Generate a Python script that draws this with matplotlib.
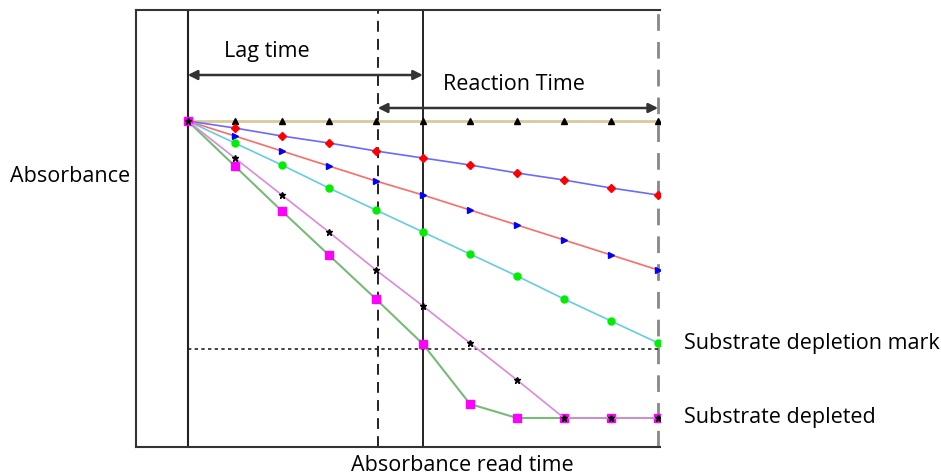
import matplotlib
matplotlib.use("Agg")
import matplotlib.pyplot as plt

# tiempos de lectura y absorbancias de cada serie
tiempos = [0, 1, 2, 3, 4, 5, 6, 7, 8, 9, 10]
serie_control = [3.26, 3.26, 3.26, 3.26, 3.26, 3.26, 3.26, 3.26, 3.26, 3.26, 3.26]
serie_lenta = [3.26, 3.19, 3.11, 3.04, 2.96, 2.89, 2.82, 2.74, 2.67, 2.59, 2.52]
serie_media = [3.26, 3.11, 2.96, 2.81, 2.66, 2.52, 2.37, 2.22, 2.07, 1.92, 1.77]
serie_rapida = [3.26, 3.04, 2.82, 2.59, 2.37, 2.15, 1.93, 1.71, 1.48, 1.26, 1.04]
serie_muy_rapida = [3.26, 2.89, 2.52, 2.15, 1.77, 1.41, 1.04, 0.67, 0.29, 0.29, 0.29]
serie_maxima = [3.26, 2.81, 2.36, 1.92, 1.48, 1.03, 0.43, 0.29, 0.29, 0.29, 0.29]
marca_agotamiento = 0.98
inicio_lectura, fin_retardo, lectura, fin_reaccion = 0, 4.04, 5, 10

plt.rcParams['font.family'] = ['Open Sans', 'DejaVu Sans']
TAM = 15.5

fig = plt.figure(figsize=(9.41, 4.76), dpi=100)
ax = fig.add_axes([136 / 941, 29 / 476, 524 / 941, 437 / 476])
ax.set_xlim(-1.1, 10.04)
ax.set_ylim(0, 4.37)
ax.set_xticks([])
ax.set_yticks([])
for lado in ['left', 'top', 'bottom']:
    ax.spines[lado].set_color('#333333')
    ax.spines[lado].set_linewidth(1.5)
ax.spines['right'].set_visible(False)

# líneas de referencia
ax.axvline(inicio_lectura, color='#222222', lw=1.5)
ax.axvline(fin_retardo, color='#111111', lw=1.3, ls=(0, (6, 4)))
ax.axvline(lectura, color='#111111', lw=1.3)
ax.axvline(fin_reaccion, color='#888888', lw=2, ls=(0, (6, 4)))
ax.plot([tiempos[0], tiempos[-1]], [marca_agotamiento] * 2, color='#222222', lw=1.2, ls=(0, (2, 2)))

# series (línea, marcador)
ax.plot(tiempos, serie_control, color='#d9c99a', lw=2, marker='^', ms=5, mfc='black', mec='black')
ax.plot(tiempos, serie_lenta, color='#6a6aff', lw=1.2, marker='D', ms=4, mfc='red', mec='red')
ax.plot(tiempos, serie_media, color='#ff6a6a', lw=1.2, marker='>', ms=5, mfc='blue', mec='blue')
ax.plot(tiempos, serie_rapida, color='#66cce0', lw=1.2, marker='o', ms=5, mfc='#00ee00', mec='#00ee00')
ax.plot(tiempos, serie_maxima, color='#77bb77', lw=1.5, marker='s', ms=6, mfc='#ff00ff', mec='#ff00ff')
ax.plot(tiempos, serie_muy_rapida, color='#dd88dd', lw=1.2, marker='*', ms=5, mfc='black', mec='black')

# flechas de intervalos
flecha = dict(arrowstyle='<|-|>', color='#333333', lw=1.8, mutation_scale=14, shrinkA=0, shrinkB=0)
ax.annotate('', xy=(inicio_lectura, 3.72), xytext=(lectura, 3.72), arrowprops=flecha)
ax.annotate('', xy=(fin_retardo, 3.39), xytext=(fin_reaccion, 3.39), arrowprops=flecha)
ax.text(1.69, 3.96, 'Lag time', ha='center', va='center', fontsize=TAM)
ax.text(6.94, 3.62, 'Reaction Time', ha='center', va='center', fontsize=TAM)

fig.text(10 / 941, 0.630, 'Absorbance', ha='left', va='center', fontsize=TAM)
fig.text(462 / 941, 0.023, 'Absorbance read time', ha='center', va='center', fontsize=TAM)
fig.text(684 / 941, 0.279, 'Substrate depletion mark', ha='left', va='center', fontsize=TAM)
fig.text(684 / 941, 0.122, 'Substrate depleted', ha='left', va='center', fontsize=TAM)

fig.savefig('out.png', dpi=100)
